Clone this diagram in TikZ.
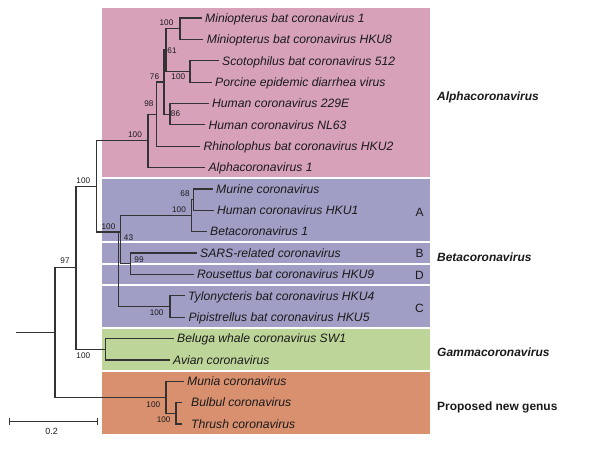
\documentclass[tikz,border=0pt]{standalone}
\usepackage{fontspec}
\setmainfont{Liberation Sans}
\definecolor{alphac}{HTML}{D7A1BA}
\definecolor{betac}{HTML}{A09EC4}
\definecolor{gammac}{HTML}{BED59A}
\definecolor{newc}{HTML}{D8906F}
\definecolor{linec}{HTML}{333333}
\definecolor{txt}{HTML}{1A1A1A}
\begin{document}
\begin{tikzpicture}[x=1bp,y=-1bp,
  branch/.style={draw=linec, line width=1.2bp, line cap=rect},
  leaf/.style={anchor=base west, inner sep=0pt, xshift=4bp, yshift=-4.3bp, text=txt, font=\fontsize{12.2}{14}\selectfont\itshape},
  boot/.style={inner sep=0pt, text=txt, font=\fontsize{8.2}{9}\selectfont},
  clade/.style={anchor=base west, inner sep=0pt, yshift=-4.3bp, text=txt, font=\fontsize{12}{14}\selectfont\bfseries\itshape},
  cladeup/.style={anchor=base west, inner sep=0pt, yshift=-4.3bp, text=txt, font=\fontsize{12}{14}\selectfont\bfseries},
  grp/.style={inner sep=0pt, text=txt, font=\fontsize{12}{14}\selectfont}
]
\useasboundingbox (0,0) rectangle (589,459);
\fill[white] (0,0) rectangle (589,459);
% coloured clade boxes
\fill[alphac] (102,8.3) rectangle (430,177.3);
\fill[betac] (102,179.3) rectangle (430,241.4);
\fill[betac] (102,243.4) rectangle (430,262.8);
\fill[betac] (102,264.8) rectangle (430,284.1);
\fill[betac] (102,286.1) rectangle (430,326.9);
\fill[gammac] (102,328.9) rectangle (430,369.6);
\fill[newc] (102,371.6) rectangle (430,433.7);

% leaf tips
\coordinate (L0) at (201,18.00);
\coordinate (L1) at (202.7,39.37);
\coordinate (L2) at (218,60.74);
\coordinate (L3) at (211,82.11);
\coordinate (L4) at (208,103.48);
\coordinate (L5) at (204.5,124.85);
\coordinate (L6) at (199.3,146.22);
\coordinate (L7) at (204.3,167.59);
\coordinate (L8) at (212,188.96);
\coordinate (L9) at (213,210.33);
\coordinate (L10) at (206,231.70);
\coordinate (L11) at (196,253.07);
\coordinate (L12) at (193,274.44);
\coordinate (L13) at (184,295.81);
\coordinate (L14) at (184.3,317.18);
\coordinate (L15) at (173,338.55);
\coordinate (L16) at (169,359.92);
\coordinate (L17) at (183,381.29);
\coordinate (L18) at (181,402.66);
\coordinate (L19) at (181,424.03);

% internal nodes
\coordinate (n100a) at (180,28.7);
\coordinate (n100b) at (190,71.4);
\coordinate (n61) at (166,50.05);
\coordinate (n86) at (170,114.2);
\coordinate (n76) at (164,82.1);
\coordinate (n98) at (156.7,114.2);
\coordinate (nAlpha) at (148,140.9);
\coordinate (nAB) at (96.7,186.4);
\coordinate (n68) at (193.3,199.6);
\coordinate (nA) at (191.7,215.7);
\coordinate (n43) at (120.7,232);
\coordinate (n99) at (130.7,263.8);
\coordinate (nC) at (170,306.5);
\coordinate (nBeta) at (118.3,232);
\coordinate (nG) at (105.5,349.2);
\coordinate (n97) at (76,267.8);
\coordinate (n100p) at (176,413.3);
\coordinate (nP) at (166,397.3);
\coordinate (nroot) at (55,332.6);
\coordinate (r0) at (16.7,332.6);

% branches
\draw[branch] (r0) -- (nroot);
\draw[branch] (nroot) |- (n97);
\draw[branch] (nroot) |- (nP);
\draw[branch] (n97) |- (nAB);
\draw[branch] (n97) |- (nG);
\draw[branch] (nAB) |- (nAlpha);
\draw[branch] (nAB) |- (nBeta);
\draw[branch] (nAlpha) |- (n98);
\draw[branch] (nAlpha) |- (L7);
\draw[branch] (n98) |- (n76);
\draw[branch] (n98) |- (L6);
\draw[branch] (n76) |- (n61);
\draw[branch] (n76) |- (n86);
\draw[branch] (n61) |- (n100a);
\draw[branch] (n61) |- (n100b);
\draw[branch] (n100a) |- (L0);
\draw[branch] (n100a) |- (L1);
\draw[branch] (n100b) |- (L2);
\draw[branch] (n100b) |- (L3);
\draw[branch] (n86) |- (L4);
\draw[branch] (n86) |- (L5);
\draw[branch] (nBeta) |- (n43);
\draw[branch] (nBeta) |- (nC);
\draw[branch] (n43) |- (nA);
\draw[branch] (n43) |- (n99);
\draw[branch] (nA) |- (n68);
\draw[branch] (nA) |- (L10);
\draw[branch] (n68) |- (L8);
\draw[branch] (n68) |- (L9);
\draw[branch] (n99) |- (L11);
\draw[branch] (n99) |- (L12);
\draw[branch] (nC) |- (L13);
\draw[branch] (nC) |- (L14);
\draw[branch] (nG) |- (L15);
\draw[branch] (nG) |- (L16);
\draw[branch] (nP) |- (L17);
\draw[branch] (nP) |- (n100p);
\draw[branch] (n100p) |- (L18);
\draw[branch] (n100p) |- (L19);

% leaf labels
\node[leaf] (t0) at (L0) {Miniopterus bat coronavirus 1};
\node[leaf] (t1) at (L1) {Miniopterus bat coronavirus HKU8};
\node[leaf] (t2) at (L2) {Scotophilus bat coronavirus 512};
\node[leaf] (t3) at (L3) {Porcine epidemic diarrhea virus};
\node[leaf] (t4) at (L4) {Human coronavirus 229E};
\node[leaf] (t5) at (L5) {Human coronavirus NL63};
\node[leaf] (t6) at (L6) {Rhinolophus bat coronavirus HKU2};
\node[leaf] (t7) at (L7) {Alphacoronavirus 1};
\node[leaf] (t8) at (L8) {Murine coronavirus};
\node[leaf] (t9) at (L9) {Human coronavirus HKU1};
\node[leaf] (t10) at (L10) {Betacoronavirus 1};
\node[leaf] (t11) at (L11) {SARS-related coronavirus};
\node[leaf] (t12) at (L12) {Rousettus bat coronavirus HKU9};
\node[leaf] (t13) at (L13) {Tylonycteris bat coronavirus HKU4};
\node[leaf] (t14) at (L14) {Pipistrellus bat coronavirus HKU5};
\node[leaf] (t15) at (L15) {Beluga whale coronavirus SW1};
\node[leaf] (t16) at (L16) {Avian coronavirus};
\node[leaf] (t17) at (L17) {Munia coronavirus};
\node[leaf, xshift=6bp] (t18) at (L18) {Bulbul coronavirus};
\node[leaf, xshift=6bp] (t19) at (L19) {Thrush coronavirus};

% bootstrap values
\node[boot] (b1) at (166.5,23) {100};
\node[boot] (b2) at (172,50.5) {61};
\node[boot] (b3) at (178.3,77) {100};
\node[boot] (b4) at (154.5,77) {76};
\node[boot] (b5) at (175.5,113.5) {86};
\node[boot] (b6) at (148.8,104) {98};
\node[boot] (b7) at (135,135) {100};
\node[boot] (b8) at (83.3,181) {100};
\node[boot] (b9) at (108.5,227) {100};
\node[boot] (b10) at (128.5,237.5) {43};
\node[boot] (b11) at (185,194) {68};
\node[boot] (b12) at (179,209.5) {100};
\node[boot] (b13) at (139,259.5) {99};
\node[boot] (b14) at (156.7,313) {100};
\node[boot] (b15) at (65,261) {97};
\node[boot] (b16) at (83.3,356) {100};
\node[boot] (b17) at (153.3,404.7) {100};
\node[boot] (b18) at (163.7,420) {100};

% group letters
\node[grp] (gA) at (419.5,212) {A};
\node[grp] (gB) at (419.5,253) {B};
\node[grp] (gD) at (419.5,275.5) {D};
\node[grp] (gC) at (419.5,308) {C};

% clade names
\node[clade] (cA) at (437,96) {Alphacoronavirus};
\node[clade] (cB) at (437,257) {Betacoronavirus};
\node[clade] (cG) at (437,352) {Gammacoronavirus};
\node[cladeup] (cN) at (437,406) {Proposed new genus};

% scale bar
\coordinate (s0) at (9.3,421.7);
\coordinate (s1) at (97.3,421.7);
\draw[branch, line cap=butt] (s0) -- (s1);
\draw[branch, line cap=butt] ([yshift=3.5bp]s0) -- ([yshift=-3.5bp]s0);
\draw[branch, line cap=butt] ([yshift=3.5bp]s1) -- ([yshift=-3.5bp]s1);
\node[boot, font=\fontsize{9}{10}\selectfont] (sl) at (51.7,431) {0.2};
\end{tikzpicture}
\end{document}
